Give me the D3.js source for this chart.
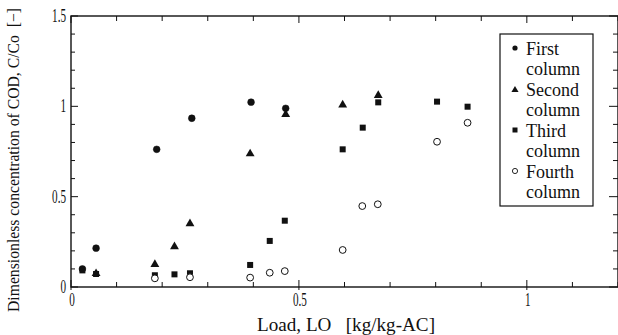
<!DOCTYPE html>
<html><head><meta charset="utf-8">
<script src="https://cdn.jsdelivr.net/npm/d3@7"></script>
<style>body{margin:0;background:#fff}svg{display:block}text{font-family:"Liberation Serif","Times New Roman",serif;fill:#111;white-space:pre}</style>
</head><body><svg id="c" width="618" height="335"></svg>
<script>
const firstX = [0.025, 0.055, 0.188, 0.265, 0.395, 0.471];
const firstY = [0.10, 0.215, 0.762, 0.934, 1.023, 0.989];
const secondX = [0.055, 0.184, 0.227, 0.261, 0.393, 0.471, 0.596, 0.674];
const secondY = [0.08, 0.131, 0.229, 0.356, 0.743, 0.961, 1.013, 1.066];
const thirdX = [0.025, 0.055, 0.184, 0.227, 0.261, 0.393, 0.436, 0.469, 0.596, 0.640, 0.674, 0.803, 0.870];
const thirdY = [0.092, 0.072, 0.065, 0.070, 0.076, 0.122, 0.255, 0.367, 0.762, 0.882, 1.022, 1.026, 0.998];
const fourthX = [0.184, 0.261, 0.393, 0.436, 0.469, 0.596, 0.639, 0.673, 0.803, 0.870];
const fourthY = [0.048, 0.054, 0.052, 0.079, 0.088, 0.205, 0.448, 0.458, 0.804, 0.909];
const xTickLabels = ["0", "0.5", "1"];
const yTickLabels = ["0", "0.5", "1", "1.5"];
const seriesNames = [["First","column"],["Second","column"],["Third","column"],["Fourth","column"]];
const xTitle = "Load, LO   [kg/kg-AC]";
const yTitle = "Dimensionless concentration of COD, C/Co  [−]";

const svg = d3.select("#c");
const x = d3.scaleLinear().domain([0, 1.2]).range([71, 618]);
const y = d3.scaleLinear().domain([0, 1.5]).range([287, 16]);
const ink = "#111";

// frame
svg.append("rect").attr("x", x(0)).attr("y", y(1.5)).attr("width", x(1.2)-x(0)).attr("height", y(0)-y(1.5))
  .attr("fill","none").attr("stroke",ink).attr("stroke-width",1.4);

const minor = d3.range(0, 13).map(i => i/10);
const minorY = d3.range(0, 16).map(i => i/10);
const isMajor = v => Math.abs(v*2 - Math.round(v*2)) < 1e-6;
const g = svg.append("g").attr("stroke", ink).attr("stroke-width", 1);
minor.forEach(v => {
  const px = x(v), M = isMajor(v);
  g.append("line").attr("x1",px).attr("x2",px).attr("y1",y(0)+(M?3:0)).attr("y2",y(0)-(M?7:5));
  g.append("line").attr("x1",px).attr("x2",px).attr("y1",y(1.5)).attr("y2",y(1.5)+(M?7:5));
});
minorY.forEach(v => {
  const py = y(v), M = isMajor(v);
  g.append("line").attr("y1",py).attr("y2",py).attr("x1",x(0)).attr("x2",x(0)+(M?7:4));
  g.append("line").attr("y1",py).attr("y2",py).attr("x1",x(1.2)).attr("x2",x(1.2)-(M?9:5));
});

// tick labels (condensed serif)
[0, 0.5, 1].forEach((v,i) => {
  svg.append("text").attr("transform",`translate(${x(v)+1},${y(0)+19}) scale(0.62,1)`)
    .attr("text-anchor","middle").attr("font-size",18).text(xTickLabels[i]);
});
[0, 0.5, 1, 1.5].forEach((v,i) => {
  svg.append("text").attr("transform",`translate(${x(0)-5},${y(v)+6}) scale(0.62,1)`)
    .attr("text-anchor","end").attr("font-size",18).text(yTickLabels[i]);
});

// axis titles
svg.append("text").attr("x", 257).attr("y", 331).attr("font-size",18)
  .attr("textLength",178).attr("lengthAdjust","spacingAndGlyphs").text(xTitle);
svg.append("text").attr("transform","translate(19,312) rotate(-90)").attr("font-size",16)
  .attr("textLength",304).attr("lengthAdjust","spacingAndGlyphs").text(yTitle);

// markers
const tri = d3.symbol().type(d3.symbolTriangle);
function drawCircles(xs, ys, filled){
  svg.append("g").selectAll("circle").data(xs).join("circle")
    .attr("cx",(d)=>x(d)).attr("cy",(d,i)=>y(ys[i])).attr("r",3.4)
    .attr("fill", filled?ink:"#fff").attr("stroke",ink).attr("stroke-width",filled?0.5:1);
}
drawCircles(firstX, firstY, true);
svg.append("g").selectAll("path").data(secondX).join("path")
  .attr("d", tri.size(34)()).attr("transform",(d,i)=>`translate(${x(d)},${y(secondY[i])+1})`).attr("fill",ink);
svg.append("g").selectAll("rect").data(thirdX).join("rect")
  .attr("x",d=>x(d)-3).attr("y",(d,i)=>y(thirdY[i])-3).attr("width",6).attr("height",6).attr("fill",ink);
drawCircles(fourthX, fourthY, false);

// legend
const lg = svg.append("g");
lg.append("rect").attr("x",500).attr("y",34).attr("width",93).attr("height",172)
  .attr("fill","#fff").attr("stroke",ink).attr("stroke-width",1.2);
const base = [55, 96, 137, 178];
seriesNames.forEach((nm, k) => {
  const b = base[k];
  lg.append("text").attr("x",526).attr("y",b).attr("font-size",18).text(nm[0]);
  lg.append("text").attr("x",526).attr("y",b+20).attr("font-size",18).text(nm[1]);
  const my = b - 7, mx = 515;
  if (k===0) lg.append("circle").attr("cx",mx).attr("cy",my).attr("r",2.6).attr("fill",ink);
  if (k===1) lg.append("path").attr("d",tri.size(22)()).attr("transform",`translate(${mx},${my+1})`).attr("fill",ink);
  if (k===2) lg.append("rect").attr("x",mx-2.5).attr("y",my-2.5).attr("width",5).attr("height",5).attr("fill",ink);
  if (k===3) lg.append("circle").attr("cx",mx).attr("cy",my).attr("r",2.6).attr("fill","#fff").attr("stroke",ink).attr("stroke-width",0.9);
});
</script></body></html>
